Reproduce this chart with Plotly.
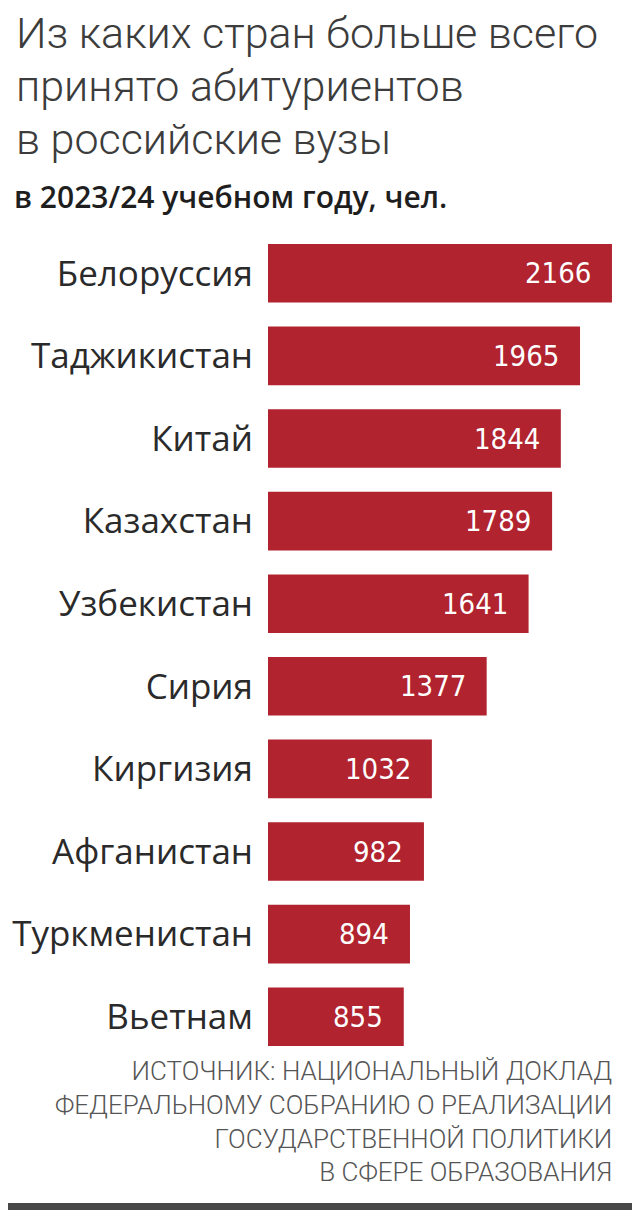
import plotly.graph_objects as go

countries = ["Белоруссия", "Таджикистан", "Китай", "Казахстан", "Узбекистан",
             "Сирия", "Киргизия", "Афганистан", "Туркменистан", "Вьетнам"]
values = [2166, 1965, 1844, 1789, 1641, 1377, 1032, 982, 894, 855]

title_lines = ["Из каких стран больше всего", "принято абитуриентов", "в российские вузы"]
subtitle = "в 2023/24 учебном году, чел."
source_lines = ["ИСТОЧНИК: НАЦИОНАЛЬНЫЙ ДОКЛАД",
                "ФЕДЕРАЛЬНОМУ СОБРАНИЮ О РЕАЛИЗАЦИИ",
                "ГОСУДАРСТВЕННОЙ ПОЛИТИКИ",
                "В СФЕРЕ ОБРАЗОВАНИЯ"]

# The page body has an 8px default margin: work in screen pixels, shift by OFF,
# and keep the figure small enough that the page never overflows.
OFF = 8
W, H = 640 - OFF, 1218 - 2 * OFF
SL, SR, ST, SB = 268, 620, 232, 1058  # plot area in screen pixels
PL, PR, PT, PB = SL - OFF, SR - OFF, ST - OFF, SB - OFF
BAR = "#b0232f"


def px(x):
    return (x - SL) / (SR - SL)


def py(y):
    return (SB - y) / (SB - ST)


fig = go.Figure()
fig.add_trace(go.Bar(
    x=values, y=countries, orientation="h",
    marker=dict(color=BAR, line=dict(width=0)),
    hoverinfo="skip",
))

annotations = []
for c, v in zip(countries, values):
    annotations.append(dict(
        x=v, y=c, xref="x", yref="y", text=str(v), showarrow=False,
        xanchor="right", yanchor="middle", xshift=-19,
        font=dict(family="DejaVu Sans Condensed, sans-serif", size=29, color="white"),
    ))

title_y = [33, 86, 139]
for t, yy in zip(title_lines, title_y):
    annotations.append(dict(
        x=px(14), y=py(yy), xref="paper", yref="paper", text=t, showarrow=False,
        xanchor="left", yanchor="middle",
        font=dict(family="Roboto, sans-serif", size=43, color="#3c3c3c", weight=300),
    ))
annotations.append(dict(
    x=px(12), y=py(196), xref="paper", yref="paper", text=subtitle, showarrow=False,
    xanchor="left", yanchor="middle",
    font=dict(family="Open Sans, sans-serif", size=30, color="#1e1e1e", weight=600),
))

annotations.append(dict(
    x=px(614), y=py(1121), xref="paper", yref="paper",
    text="<br>".join(source_lines), showarrow=False, align="right",
    xanchor="right", yanchor="middle",
    font=dict(family="Roboto, sans-serif", size=26, color="#555555", weight=300),
))

shapes = [dict(
    type="rect", xref="paper", yref="paper", layer="below",
    x0=px(3), x1=px(633), y0=py(1203), y1=py(4),
    fillcolor="white", line=dict(width=0),
)]

fig.update_layout(
    width=W, height=H,
    margin=dict(l=PL, r=W - PR, t=PT, b=H - PB, pad=0),
    paper_bgcolor="#484848", plot_bgcolor="rgba(0,0,0,0)",
    showlegend=False, bargap=0.29,
    annotations=annotations, shapes=shapes,
    xaxis=dict(range=[0, (SR - SL) / 0.1588], visible=False, fixedrange=True,
               automargin=False),
    yaxis=dict(autorange="reversed", showgrid=False, zeroline=False, showline=False,
               ticks="", ticklabelstandoff=14, automargin=False,
               tickfont=dict(family="Open Sans, sans-serif", size=35, color="#2a2a2a"),
               fixedrange=True),
)

fig.write_html("out.html")
